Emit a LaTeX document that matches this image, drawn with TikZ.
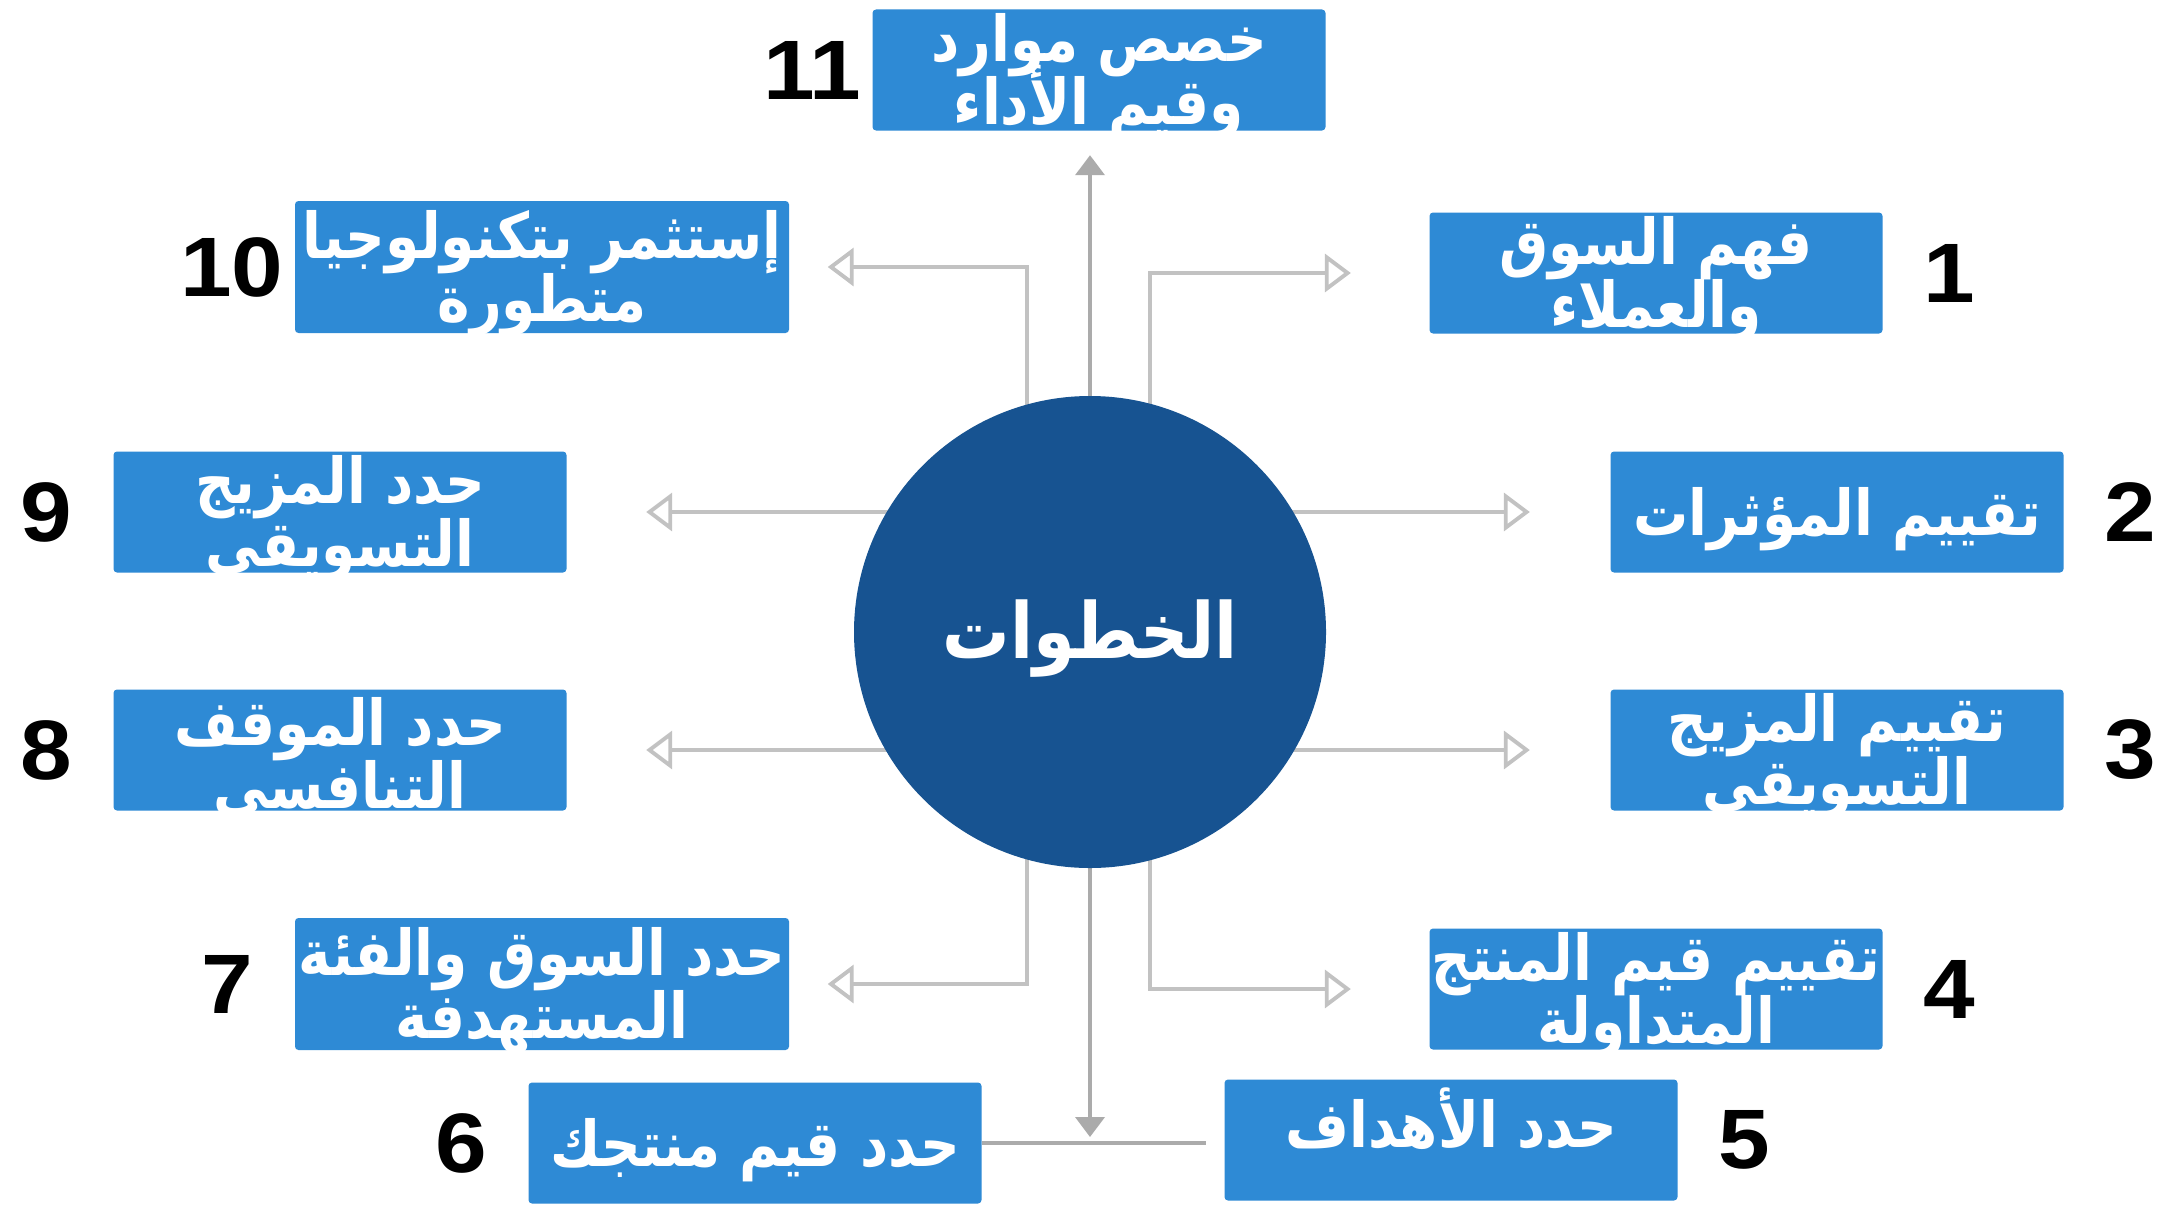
\documentclass[tikz,border=0pt]{standalone}
\usepackage{fontspec}
\setmainfont{Liberation Sans}
\newfontfamily\arabicfont[Script=Arabic,FakeStretch=0.87]{DejaVu Sans}
\newfontfamily\numfont[FakeStretch=1.1]{Liberation Sans}
\TeXXeTstate=1
\usetikzlibrary{arrows.meta,positioning,backgrounds}
\definecolor{StepBlue}{HTML}{2E8AD5}
\definecolor{HubBlue}{HTML}{175391}
\definecolor{LineGray}{HTML}{C2C2C2}
\definecolor{ArrowGray}{HTML}{ABABAB}
% one right-to-left line, set a little low
\newcommand{\rl}[1]{\raisebox{-2pt}[\height][\depth]{\beginR #1\endR}}
% box text: fixed line distance, lines may touch
\newcommand{\steptext}{\arabicfont\bfseries\fontsize{18}{18}\selectfont
  \lineskiplimit=-100pt\relax}
\tikzset{
  stepbox/.style = {rectangle, rounded corners=1pt, fill=StepBlue, text=white,
                    align=center, inner xsep=0pt, inner ysep=-3pt,
                    minimum width=4.53cm, minimum height=1.21cm,
                    font=\steptext},
  widebox/.style = {stepbox, minimum width=4.94cm, minimum height=1.32cm},
  hub/.style     = {circle, fill=HubBlue, text=white, inner sep=0pt,
                    minimum size=4.72cm,
                    font=\arabicfont\bfseries\fontsize{22}{26}\selectfont},
  num/.style     = {font=\numfont\bfseries\fontsize{24}{24}\selectfont, inner sep=0pt},
  link/.style    = {draw=ArrowGray, line width=1.1pt},
  arr/.style     = {draw=LineGray, line width=1.1pt,
                    -{Triangle[open, length=2.6mm, width=3.8mm]}},
  arrfill/.style = {link, -{Triangle[length=2mm, width=2.9mm]}},
}

\begin{document}
\begin{tikzpicture}[node distance=4mm]
  % centro
  \node[hub] (hub) at (10.90,5.79) {\rl{الخطوات}};

  % pasos, lado derecho
  \node[stepbox] (b1) at (16.56,9.38) {\rl{فهم السوق}\\\rl{والعملاء}};
  \node[stepbox] (b2) at (18.37,6.99) {\rl{تقييم المؤثرات}};
  \node[stepbox] (b3) at (18.37,4.61) {\rl{تقييم المزيج}\\\rl{التسويقي}};
  \node[stepbox] (b4) at (16.56,2.22) {\rl{تقييم قيم المنتج}\\\rl{المتداولة}};
  \node[stepbox] (b5) at (14.51,0.71) {\smash{\rl{حدد الأهداف}}};

  % pasos, lado izquierdo
  \node[stepbox] (b6) at (7.55,0.68) {\rl{حدد قيم منتجك}};
  \node[widebox] (b7) at (5.42,2.27) {\rl{حدد السوق والفئة}\\\rl{المستهدفة}};
  \node[stepbox] (b8) at (3.40,4.61) {\rl{حدد الموقف}\\\rl{التنافسى}};
  \node[stepbox] (b9) at (3.40,6.99) {\rl{حدد المزيج}\\\rl{التسويقى}};
  \node[widebox] (b10) at (5.42,9.44) {\rl{إستثمر بتكنولوجيا}\\\rl{متطورة}};
  \node[stepbox] (b11) at (10.99,11.41) {\rl{خصص موارد}\\\rl{وقيم الأداء}};

  % numeros
  \node[num, right=of b1] (n1) {1};
  \node[num, right=of b2] (n2) {2};
  \node[num, right=of b3] (n3) {3};
  \node[num, right=of b4] (n4) {4};
  \node[num, right=of b5] (n5) {5};
  \node[num, left=of b6] (n6) {6};
  \node[num, left=of b7] (n7) {7};
  \node[num, left=of b8] (n8) {8};
  \node[num, left=of b9] (n9) {9};
  \node[num, left=1mm of b10] (n10) {10};
  \node[num, left=1mm of b11] (n11) {11};

  % fondo y conectores detras del circulo
  \begin{scope}[on background layer]
    \fill[white] (0,0) rectangle (21.77,12.11);
    \draw[arrfill, shorten >=2.4mm] (hub.center) -- (hub.center |- b11.south);
    \draw[arr, shorten >=3.8mm] ([xshift=-6.3mm]hub.center) |- (b10);
    \draw[arr, shorten >=7.8mm] ([xshift=6mm]hub.center) |- (b1);
    \draw[arr, shorten >=7.9mm] (hub.center |- b9) -- (b9);
    \draw[arr, shorten >=8mm] (hub.center |- b2) -- (b2);
    \draw[arr, shorten >=7.9mm] (hub.center |- b8) -- (b8);
    \draw[arr, shorten >=8mm] (hub.center |- b3) -- (b3);
    \draw[arr, shorten >=3.8mm] ([xshift=-6.3mm]hub.center) |- (b7);
    \draw[arr, shorten >=7.8mm] ([xshift=6mm]hub.center) |- (b4);
    \draw[arrfill, shorten >=0.6mm] (hub.center) -- (hub.center |- b6);
    \draw[link, shorten >=1.8mm] (b6) -- (b6 -| b5.west);
  \end{scope}
\end{tikzpicture}
\end{document}
